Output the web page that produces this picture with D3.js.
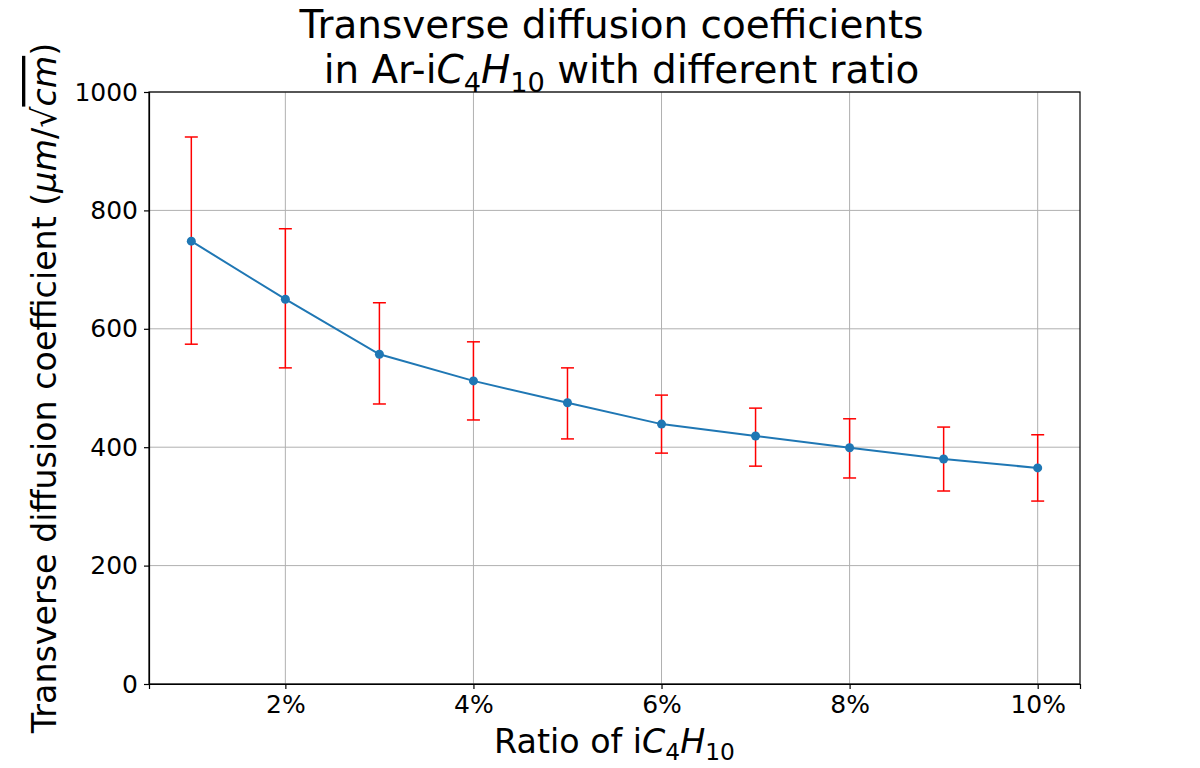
<!DOCTYPE html>
<html>
<head>
<meta charset="utf-8">
<script src="https://cdn.jsdelivr.net/npm/d3@7"></script>
<style>
  body { margin: 0; background: #fff; }
  text { font-family: "DejaVu Sans", sans-serif; fill: #000; }
  .grid line { stroke: #b0b0b0; stroke-width: 1; }
  .axis path, .axis line { stroke: #000; stroke-width: 1.2; }
</style>
</head>
<body>
<div id="chart"></div>
<script>
// data
var ratios = [1, 2, 3, 4, 5, 6, 7, 8, 9, 10];
var coeffs = [748, 650, 557, 512, 475, 439, 419, 399, 380, 365];
var errUp = [924, 769, 644, 578, 534, 488, 466, 448, 434, 421];
var errDown = [574, 534, 473, 446, 414, 390, 368, 348, 326, 309];
var xTicks = [2, 4, 6, 8, 10];
var yTicks = [0, 200, 400, 600, 800, 1000];

var width = 1200, height = 768;
var margin = { top: 92, right: 120, bottom: 84, left: 149 };

var svg = d3.select('#chart').append('svg')
    .attr('width', width)
    .attr('height', height);

var x = d3.scaleLinear()
    .domain([0.55, 10.45])
    .range([margin.left, width - margin.right]);

var y = d3.scaleLinear()
    .domain([0, 1000])
    .range([height - margin.bottom, margin.top]);

// grid
svg.append('g').attr('class', 'grid')
    .selectAll('line').data(xTicks).enter().append('line')
    .attr('x1', function(d) { return x(d); })
    .attr('x2', function(d) { return x(d); })
    .attr('y1', y(0)).attr('y2', y(1000));

svg.append('g').attr('class', 'grid')
    .selectAll('line').data(yTicks).enter().append('line')
    .attr('x1', x.range()[0]).attr('x2', x.range()[1])
    .attr('y1', function(d) { return y(d); })
    .attr('y2', function(d) { return y(d); });

// axes
var xAxis = svg.append('g').attr('class', 'axis')
    .attr('transform', 'translate(0,' + y(0) + ')')
    .call(d3.axisBottom(x).tickValues(xTicks).tickSize(5).tickPadding(6)
        .tickFormat(function(d) { return d + '%'; }));
xAxis.selectAll('text').style('font-size', '25px');

var yAxis = svg.append('g').attr('class', 'axis')
    .attr('transform', 'translate(' + x.range()[0] + ',0)')
    .call(d3.axisLeft(y).tickValues(yTicks).tickSize(5).tickPadding(6)
        .tickFormat(d3.format('d')));
yAxis.selectAll('text').style('font-size', '25px');

// frame
svg.append('rect')
    .attr('x', x.range()[0]).attr('y', y(1000))
    .attr('width', x.range()[1] - x.range()[0])
    .attr('height', y(0) - y(1000))
    .attr('fill', 'none').attr('stroke', '#000').attr('stroke-width', 1.2);

// error bars
var cap = 6.5;
var eb = svg.append('g').attr('stroke', 'red').attr('stroke-width', 1.5);
ratios.forEach(function(r, i) {
    eb.append('line')
        .attr('x1', x(r)).attr('x2', x(r))
        .attr('y1', y(errDown[i])).attr('y2', y(errUp[i]));
    eb.append('line')
        .attr('x1', x(r) - cap).attr('x2', x(r) + cap)
        .attr('y1', y(errUp[i])).attr('y2', y(errUp[i]));
    eb.append('line')
        .attr('x1', x(r) - cap).attr('x2', x(r) + cap)
        .attr('y1', y(errDown[i])).attr('y2', y(errDown[i]));
});

// line + markers
var line = d3.line()
    .x(function(d, i) { return x(ratios[i]); })
    .y(function(d) { return y(d); });

svg.append('path')
    .datum(coeffs)
    .attr('d', line)
    .attr('fill', 'none')
    .attr('stroke', '#1f77b4')
    .attr('stroke-width', 2);

svg.append('g').selectAll('circle')
    .data(coeffs).enter().append('circle')
    .attr('cx', function(d, i) { return x(ratios[i]); })
    .attr('cy', function(d) { return y(d); })
    .attr('r', 4.5)
    .attr('fill', '#1f77b4');

// helper: iC4H10 with math italics + subscripts
function formula(t, size) {
    t.append('tspan').style('font-style', 'italic').text('C');
    t.append('tspan').attr('dy', size * 0.22).style('font-size', (size * 0.7) + 'px').text('4');
    t.append('tspan').attr('dy', -size * 0.22).style('font-style', 'italic').text('H');
    t.append('tspan').attr('dy', size * 0.22).style('font-size', (size * 0.7) + 'px').text('10');
}

// title
var cx = (x.range()[0] + x.range()[1]) / 2;
var tSize = 38.9;
svg.append('text')
    .attr('x', cx - 3).attr('y', 38)
    .attr('text-anchor', 'middle')
    .style('font-size', tSize + 'px')
    .text('Transverse diffusion coefficients');

var t2 = svg.append('text')
    .attr('x', cx + 7).attr('y', 83)
    .attr('text-anchor', 'middle')
    .style('font-size', tSize + 'px');
t2.append('tspan').text('in Ar-i');
formula(t2, tSize);
t2.append('tspan').attr('dy', -tSize * 0.22).text(' with different ratio');

// x label
var lSize = 33.3;
var xl = svg.append('text')
    .attr('x', cx).attr('y', 753)
    .attr('text-anchor', 'middle')
    .style('font-size', lSize + 'px');
xl.append('tspan').text('Ratio of i');
formula(xl, lSize);

// y label
var yl = svg.append('text')
    .attr('transform', 'translate(56,' + y(500) + ') rotate(-90)')
    .attr('text-anchor', 'middle')
    .style('font-size', lSize + 'px');
yl.append('tspan').text('Transverse diffusion coefficient (');
yl.append('tspan').style('font-style', 'italic').text('μm');
yl.append('tspan').text('/√');
yl.append('tspan').style('font-style', 'italic').style('text-decoration', 'overline').text('cm');
yl.append('tspan').text(')');
</script>
</body>
</html>
